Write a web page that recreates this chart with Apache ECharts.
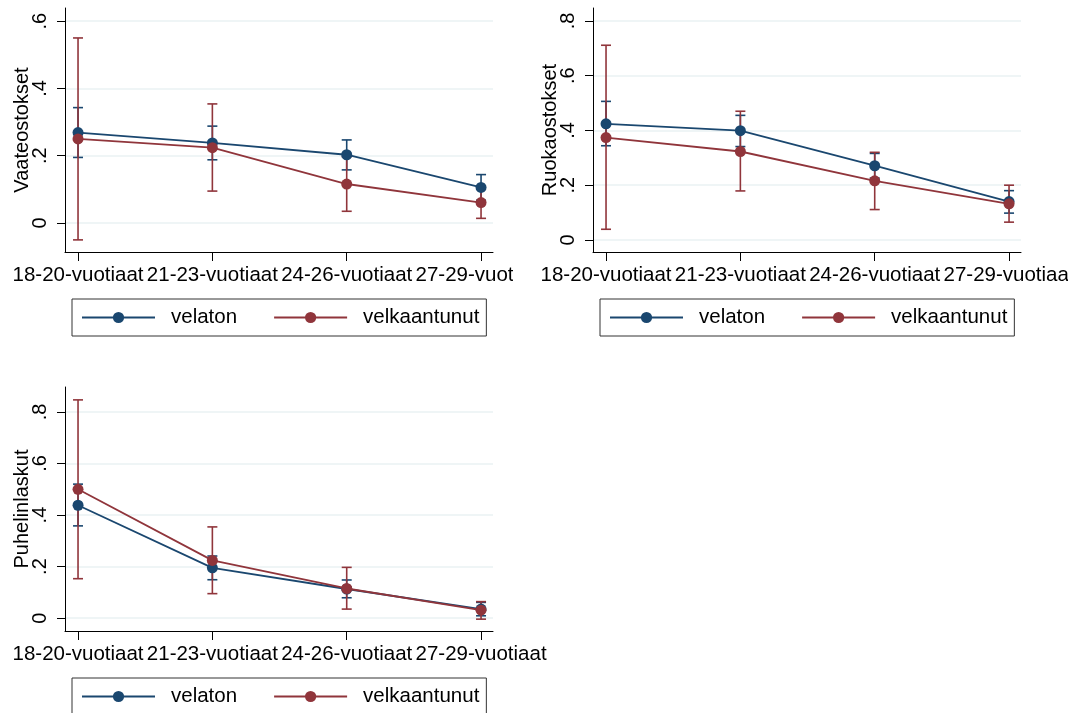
<!DOCTYPE html>
<html lang="en">
<head>
<meta charset="UTF-8">
<title>Velattomat ja velkaantuneet</title>
<style>
  body { margin: 0; background: #fff; }
  .panel { position: absolute; overflow: hidden; }
</style>
</head>
<body>
<div id="p1" class="panel" style="left:0;top:0;width:513px;height:350px"></div>
<div id="p2" class="panel" style="left:528px;top:0;width:540px;height:350px"></div>
<div id="p3" class="panel" style="left:0;top:379px;width:560px;height:334px"></div>
<script src="https://cdn.jsdelivr.net/npm/echarts@6/dist/echarts.min.js"></script>
<script>
var categories = ['18-20-vuotiaat', '21-23-vuotiaat', '24-26-vuotiaat', '27-29-vuotiaat'];
var names = ['velaton', 'velkaantunut'];

// Vaateostokset
var vaateVelaton = [0.269, 0.238, 0.203, 0.106];
var vaateVelatonLo = [0.195, 0.188, 0.158, 0.068];
var vaateVelatonHi = [0.343, 0.288, 0.247, 0.144];
var vaateVelka = [0.250, 0.224, 0.116, 0.061];
var vaateVelkaLo = [-0.050, 0.095, 0.035, 0.014];
var vaateVelkaHi = [0.550, 0.354, 0.197, 0.108];

// Ruokaostokset
var ruokaVelaton = [0.424, 0.399, 0.271, 0.140];
var ruokaVelatonLo = [0.344, 0.341, 0.226, 0.098];
var ruokaVelatonHi = [0.506, 0.455, 0.316, 0.180];
var ruokaVelka = [0.374, 0.323, 0.216, 0.132];
var ruokaVelkaLo = [0.039, 0.179, 0.111, 0.065];
var ruokaVelkaHi = [0.711, 0.470, 0.320, 0.200];

// Puhelinlaskut
var puhVelaton = [0.438, 0.195, 0.113, 0.035];
var puhVelatonLo = [0.358, 0.149, 0.079, 0.009];
var puhVelatonHi = [0.520, 0.241, 0.148, 0.061];
var puhVelka = [0.500, 0.224, 0.115, 0.031];
var puhVelkaLo = [0.153, 0.095, 0.035, -0.004];
var puhVelkaHi = [0.847, 0.354, 0.197, 0.064];

var ticks1 = [0, 0.2, 0.4, 0.6];
var ticks2 = [0, 0.2, 0.4, 0.6, 0.8];

var blue = '#1a476f';
var red = '#90353b';
var font = '"Liberation Sans", Arial, Helvetica, sans-serif';

function pairs(vals) {
  return vals.map(function (v, i) { return [i, v]; });
}
function ranges(lo, hi) {
  return lo.map(function (v, i) { return [i, v, hi[i]]; });
}
function yFmt(v) {
  if (v === 0) return '0';
  return String(+v.toFixed(1)).replace('0.', '.');
}

// vertical CI line with caps
function capRender(params, api) {
  var x = api.value(0);
  var lo = api.coord([x, api.value(1)]);
  var hi = api.coord([x, api.value(2)]);
  var w = 5;
  var st = { stroke: api.visual('color'), lineWidth: 1.6 };
  return {
    type: 'group',
    children: [
      { type: 'line', shape: { x1: lo[0], y1: lo[1], x2: hi[0], y2: hi[1] }, style: st },
      { type: 'line', shape: { x1: lo[0] - w, y1: lo[1], x2: lo[0] + w, y2: lo[1] }, style: st },
      { type: 'line', shape: { x1: hi[0] - w, y1: hi[1], x2: hi[0] + w, y2: hi[1] }, style: st }
    ]
  };
}

function drawPanel(id, p) {
  var chart = echarts.init(document.getElementById(id));
  var option = {
    animation: false,
    textStyle: { fontFamily: font },
    grid: {
      left: 65, top: 8, width: 428, height: 244,
      outerBoundsMode: 'none', containLabel: false
    },
    legend: {
      data: names,
      left: 72,
      top: 299,
      orient: 'horizontal',
      borderColor: '#333',
      borderWidth: 1,
      padding: [8, 7, 8, 9],
      itemWidth: 73,
      itemHeight: 14,
      itemGap: 36,
      selectedMode: false,
      textStyle: { fontSize: 20.5, color: '#000', fontFamily: font, padding: [0, 0, 0, 11] }
    },
    xAxis: {
      type: 'value',
      min: -0.097,
      max: 3.089,
      axisLine: { onZero: false, lineStyle: { color: '#000', width: 1 } },
      axisTick: { customValues: [0, 1, 2, 3], length: 9, lineStyle: { color: '#000' } },
      axisLabel: {
        customValues: [0, 1, 2, 3],
        formatter: function (v) { return categories[Math.round(v)]; },
        fontSize: 20.5, color: '#000', margin: 13, fontFamily: font,
        hideOverlap: false
      },
      splitLine: { show: false }
    },
    yAxis: {
      type: 'value',
      min: p.yr[0],
      max: p.yr[1],
      name: p.title,
      nameLocation: 'middle',
      nameRotate: 90,
      nameGap: 33,
      nameMoveOverlap: false,
      nameTextStyle: { fontSize: 20, color: '#000', fontFamily: font },
      axisLine: { show: true, onZero: false, lineStyle: { color: '#000', width: 1 } },
      axisTick: { show: true, customValues: p.ticks, length: 8, lineStyle: { color: '#000' } },
      axisLabel: {
        customValues: p.ticks,
        rotate: 90,
        formatter: yFmt,
        fontSize: 20, color: '#000', margin: 15, fontFamily: font
      },
      splitLine: { show: true, lineStyle: { color: '#eaf2f3', width: 1.5 } }
    },
    series: [
      { type: 'custom', name: 'velaton ci', renderItem: capRender, itemStyle: { color: blue },
        data: ranges(p.aLo, p.aHi), z: 2 },
      { type: 'custom', name: 'velkaantunut ci', renderItem: capRender, itemStyle: { color: red },
        data: ranges(p.bLo, p.bHi), z: 2 },
      { type: 'line', name: names[0], data: pairs(p.a), symbol: 'circle', symbolSize: 11,
        itemStyle: { color: blue }, lineStyle: { color: blue, width: 1.8 }, z: 3 },
      { type: 'line', name: names[1], data: pairs(p.b), symbol: 'circle', symbolSize: 11,
        itemStyle: { color: red }, lineStyle: { color: red, width: 1.8 }, z: 4 }
    ]
  };
  chart.setOption(option);
}

drawPanel('p1', {
  title: 'Vaateostokset', yr: [-0.086, 0.639], ticks: ticks1,
  a: vaateVelaton, aLo: vaateVelatonLo, aHi: vaateVelatonHi,
  b: vaateVelka, bLo: vaateVelkaLo, bHi: vaateVelkaHi
});
drawPanel('p2', {
  title: 'Ruokaostokset', yr: [-0.044, 0.847], ticks: ticks2,
  a: ruokaVelaton, aLo: ruokaVelatonLo, aHi: ruokaVelatonHi,
  b: ruokaVelka, bLo: ruokaVelkaLo, bHi: ruokaVelkaHi
});
drawPanel('p3', {
  title: 'Puhelinlaskut', yr: [-0.05, 0.897], ticks: ticks2,
  a: puhVelaton, aLo: puhVelatonLo, aHi: puhVelatonHi,
  b: puhVelka, bLo: puhVelkaLo, bHi: puhVelkaHi
});
</script>
</body>
</html>
